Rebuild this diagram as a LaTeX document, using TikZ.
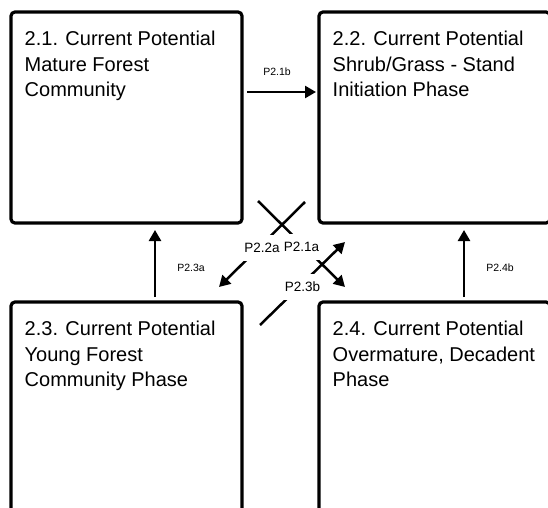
\documentclass[tikz,border=0pt]{standalone}
\usepackage{fontspec}
\setmainfont{Liberation Sans}
\usetikzlibrary{arrows.meta, positioning}

\begin{document}
\begin{tikzpicture}[
  x=1pt, y=1pt,
  phase/.style={draw, line width=3.2pt, rounded corners=4pt, outer sep=0pt,
                minimum width=231pt, minimum height=211pt},
  phasetxt/.style={anchor=north west, inner sep=0pt, align=left,
                   font=\fontsize{20}{25.5}\selectfont},
  arr/.style={line width=2.5pt, -{Triangle[length=11pt, width=12pt]}},
  olbl/.style={inner sep=0pt, font=\fontsize{10.5}{12}\selectfont},
  ilbl/.style={fill=white, inner xsep=3pt, inner ysep=0pt, minimum height=26pt,
               font=\fontsize{13.5}{16}\selectfont}
]
  \useasboundingbox (0,0) rectangle (548,507);
  \clip (0,0) rectangle (548,507);

  % Phase boxes
  \node[phase] (b21) at (126.5,389.5) {};
  \node[phase, right=77pt of b21] (b22) {};
  \node[phase, below=79pt of b21] (b23) {};
  \node[phase, right=77pt of b23] (b24) {};

  % Box texts
  \node[phasetxt] (t21) at ([shift={(13.5,-19)}]b21.north west)
    {2.1. Current Potential\\Mature Forest\\Community};
  \node[phasetxt] (t22) at ([shift={(13.5,-19)}]b22.north west)
    {2.2. Current Potential\\Shrub/Grass - Stand\\Initiation Phase};
  \node[phasetxt] (t23) at ([shift={(13.5,-19)}]b23.north west)
    {2.3. Current Potential\\Young Forest\\Community Phase};
  \node[phasetxt] (t24) at ([shift={(13.5,-19)}]b24.north west)
    {2.4. Current Potential\\Overmature, Decadent\\Phase};

  % Straight pathways
  \draw[arr] ([shift={(5,25.5)}]b21.east) -- ([shift={(-3,25.5)}]b22.west)
    node[olbl, midway, above=15pt, xshift=-4.5pt] (l21b) {P2.1b};
  \draw[arr] ([shift={(28.5,5)}]b23.north) -- ([shift={(28.5,-7)}]b21.south)
    node[olbl, midway, right=21pt, yshift=-4.5pt] (l23a) {P2.3a};
  \draw[arr] ([shift={(29.5,5)}]b24.north) -- ([shift={(29.5,-7)}]b22.south)
    node[olbl, midway, right=21pt, yshift=-4.5pt] (l24b) {P2.4b};

  % Diagonal pathways
  \draw[arr] ([shift={(-14,21)}]b22.south west) -- ([shift={(-23,15)}]b23.north east)
    node[ilbl, midway, yshift=-3pt] (l22a) {P2.2a};
  \draw[arr] ([shift={(16,22)}]b21.south east) -- ([shift={(26,15)}]b24.north west)
    node[ilbl, midway, yshift=-3pt] (l21a) {P2.1a};
  \draw[arr] ([shift={(18,-23)}]b23.north east) -- ([shift={(26,-19)}]b22.south west)
    node[ilbl, midway, yshift=-3pt] (l23b) {P2.3b};
\end{tikzpicture}
\end{document}
